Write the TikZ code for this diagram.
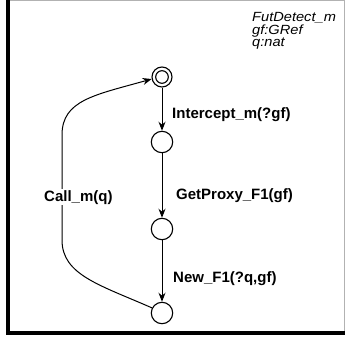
\documentclass[tikz,border=0pt]{standalone}
\usepackage{fontspec}
\setmainfont{Liberation Sans}
\usetikzlibrary{arrows.meta}
\begin{document}
\begin{tikzpicture}[x=1pt,y=-1pt,
  statenode/.style={circle,draw,line width=1.1pt,minimum size=21.4pt,inner sep=0pt},
  initnode/.style={circle,draw,line width=1.1pt,minimum size=20pt,inner sep=0pt},
  trans/.style={line width=1pt,-{Stealth[length=9pt,width=7pt]}},
  lbl/.style={font=\fontsize{15}{18}\selectfont\bfseries,anchor=base west,inner sep=0pt},
  decl/.style={font=\fontsize{13.3}{9.2}\selectfont\itshape,anchor=north west,inner sep=0pt,align=left}]
\useasboundingbox (0,0) rectangle (345,339);
% frame
\draw[gray!60,line width=1pt] (10,0.5) -- (344.5,0.5) -- (344.5,331);
\fill[black] (6,0) rectangle (10,335);
\fill[black] (6,331) rectangle (345,335);
% declarations
\node[decl] (d1) at (252,12.6) {\scalebox{1.1}[1]{FutDetect\_m}\\\scalebox{1.1}[1]{gf:GRef}\\\scalebox{1.1}[1]{q:nat}};
% states
\node[initnode] (s0) at (162,77) {};
\draw[line width=1.1pt] (s0.center) circle[radius=6.3pt];
\node[statenode] (s1) at (162,142) {};
\node[statenode] (s2) at (162,229) {};
\node[statenode] (s3) at (162,313) {};
% transitions
\draw[trans] (s0) -- (s1);
\draw[trans] (s1) -- (s2);
\draw[trans] (s2) -- (s3);
\draw[trans] (s3.153) .. controls (100,285) and (62,275) .. (62,240) -- (62,135)
   .. controls (62,100) and (95,95) .. (s0.191);
% labels
\node[lbl] (l1) at (172,119) {Intercept\_m(?gf)};
\node[lbl] (l2) at (176,199) {GetProxy\_F1(gf)};
\node[lbl] (l3) at (173,282) {New\_F1(?q,gf)};
\node[lbl,fill=white,inner sep=1pt] (l4) at (43,201) {Call\_m(q)};
\end{tikzpicture}
\end{document}
